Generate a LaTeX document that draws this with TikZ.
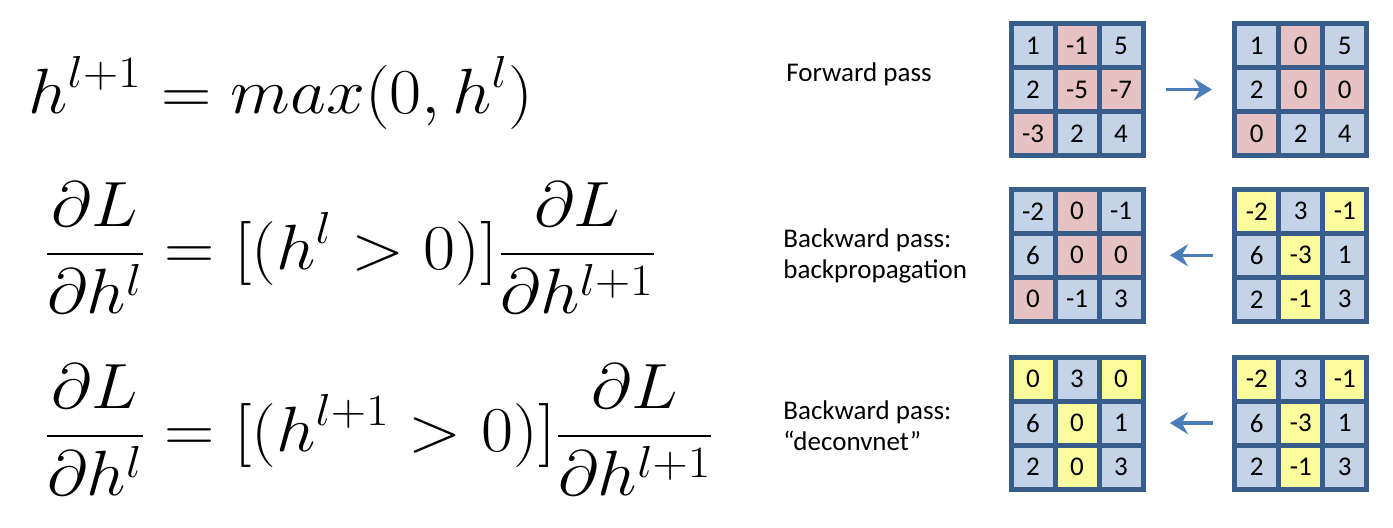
\RequirePackage{fix-cm}
\documentclass[tikz,border=0pt]{standalone}
\usepackage{amsmath}
\usepackage{graphicx}
\usepackage{fontspec}
\newfontfamily\calibfont{Carlito}
\usepackage{tikz}
\usetikzlibrary{arrows.meta,positioning,matrix}
\usepackage{xcolor}
\definecolor{gridline}{RGB}{56,93,138}
\definecolor{cellblue}{RGB}{196,211,232}
\definecolor{cellpink}{RGB}{230,194,194}
\definecolor{cellyellow}{RGB}{253,252,156}
\definecolor{arrowblue}{RGB}{74,126,187}
\newcommand{\wideeq}[1]{\scalebox{1.09}[1]{$\displaystyle #1$}}
\tikzset{
  cell/.style = {rectangle, draw=gridline, line width=2.5pt, fill=cellblue, anchor=center,
    minimum size=22pt, inner sep=0pt, font=\calibfont\fontsize{13.5}{15}\selectfont},
  negcell/.style = {fill=cellpink},
  keptcell/.style = {fill=cellyellow},
  grid/.style = {matrix of nodes, nodes={cell}, column sep=-2.5pt, row sep=-2.5pt, inner sep=0pt},
  eq/.style = {anchor=west, inner sep=0pt, font=\fontsize{32}{38}\selectfont},
  passlabel/.style = {anchor=west, align=left, inner sep=0pt,
    font=\calibfont\fontsize{13.5}{15.5}\selectfont},
  arrow/.style = {line width=1.6pt, draw=arrowblue, -{Stealth[length=9pt, width=11pt, inset=3pt]}}
}

\begin{document}
\begin{tikzpicture}[x=0.5pt, y=-0.5pt, node distance=15pt and 43pt]
\useasboundingbox (0,0) rectangle (1393,528);

\node[eq, anchor=base west] (relu) at (28,114) {\wideeq{h^{l+1} = max(0, h^l)}};
\node[eq] (backprop) at (44,248)
  {\wideeq{\frac{\partial L}{\partial h^l} = [(h^l > 0)]\frac{\partial L}{\partial h^{l+1}}}};
\node[eq] (deconv) at (44,430)
  {\wideeq{\frac{\partial L}{\partial h^l} = [(h^{l+1} > 0)]\frac{\partial L}{\partial h^{l+1}}}};

\node[passlabel] (fwdlabel) at (786,74) {Forward pass};
\node[passlabel] (bplabel) at (783,256) {Backward pass:\\backpropagation};
\node[passlabel] (dclabel) at (783,426) {Backward pass:\\“deconvnet”};

\matrix[grid] (fwdin) at (1077,89.5) {
  1 & |[negcell]| -1 & 5 \\
  2 & |[negcell]| -5 & |[negcell]| -7 \\
  |[negcell]| -3 & 2 & 4 \\
};
\matrix[grid, right=of fwdin] (fwdout) {
  1 & |[negcell]| 0 & 5 \\
  2 & |[negcell]| 0 & |[negcell]| 0 \\
  |[negcell]| 0 & 2 & 4 \\
};
\matrix[grid, below=14pt of fwdin] (bpout) {
  -2 & |[negcell]| 0 & -1 \\
  6 & |[negcell]| 0 & |[negcell]| 0 \\
  |[negcell]| 0 & -1 & 3 \\
};
\matrix[grid, right=of bpout] (bpgrad) {
  |[keptcell]| -2 & 3 & |[keptcell]| -1 \\
  6 & |[keptcell]| -3 & 1 \\
  2 & |[keptcell]| -1 & 3 \\
};
\matrix[grid, below=of bpout] (dcout) {
  |[keptcell]| 0 & 3 & |[keptcell]| 0 \\
  6 & |[keptcell]| 0 & 1 \\
  2 & |[keptcell]| 0 & 3 \\
};
\matrix[grid, right=of dcout] (dcgrad) {
  |[keptcell]| -2 & 3 & |[keptcell]| -1 \\
  6 & |[keptcell]| -3 & 1 \\
  2 & |[keptcell]| -1 & 3 \\
};

\draw[arrow, shorten <=10pt, shorten >=10pt] (fwdin) -- (fwdout);
\draw[arrow, shorten <=9.5pt, shorten >=12pt] (bpgrad) -- (bpout);
\draw[arrow, shorten <=9.5pt, shorten >=12pt] (dcgrad) -- (dcout);

\end{tikzpicture}
\end{document}
